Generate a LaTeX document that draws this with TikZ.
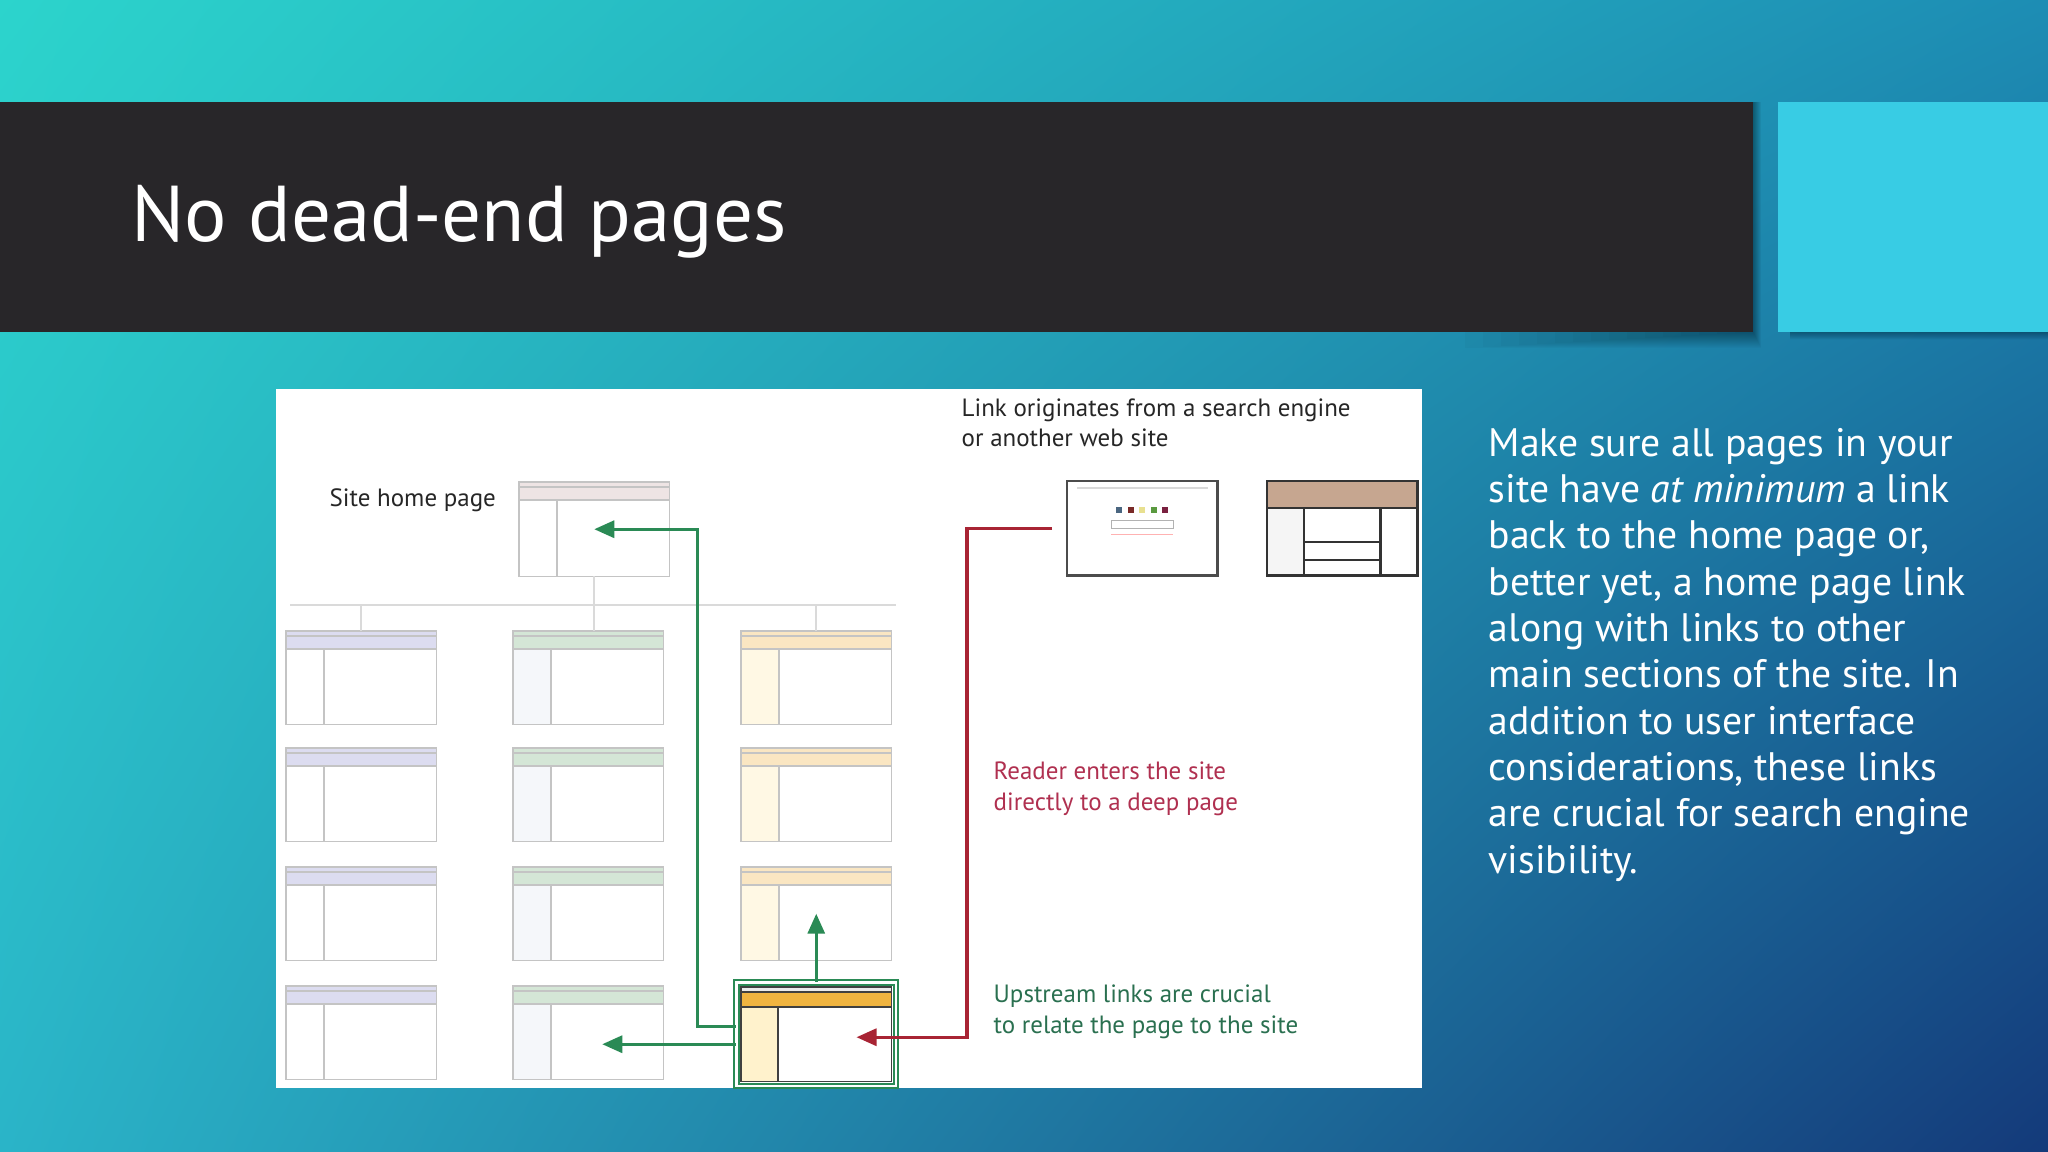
\documentclass[tikz,border=0pt]{standalone}
\usepackage{fontspec}
\setmainfont{PT Sans}
\usetikzlibrary{arrows.meta,calc,fit,shadings}

\definecolor{bgTL}{HTML}{2CD4CC}
\definecolor{bgTR}{HTML}{1D8DB4}
\definecolor{bgBL}{HTML}{2AB4C8}
\definecolor{bgBR}{HTML}{143A7A}
\definecolor{titlebar}{HTML}{282629}
\definecolor{accent}{HTML}{38CCE4}
\definecolor{boxgray}{HTML}{C4C4C4}
\definecolor{treegray}{HTML}{DADADA}
\definecolor{headHome}{HTML}{EEE4E4}
\definecolor{headA}{HTML}{DCDCF0}
\definecolor{headB}{HTML}{D4E6D6}
\definecolor{headC}{HTML}{FAE6C2}
\definecolor{colA}{HTML}{FFFFFF}
\definecolor{colB}{HTML}{F5F7FA}
\definecolor{colC}{HTML}{FFF8E4}
\definecolor{deephead}{HTML}{F0B440}
\definecolor{deepcol}{HTML}{FFF2CC}
\definecolor{sitehead}{HTML}{C6A690}
\definecolor{linkgreen}{HTML}{2A8A55}
\definecolor{linkred}{HTML}{A82434}
\definecolor{redtext}{HTML}{B03050}
\definecolor{greentext}{HTML}{2A7050}
\definecolor{sqA}{HTML}{4A6680}
\definecolor{sqB}{HTML}{7A2A28}
\definecolor{sqC}{HTML}{E8E090}
\definecolor{sqD}{HTML}{5A9A40}
\definecolor{sqE}{HTML}{7A2040}

\begin{document}
\begin{tikzpicture}[x=0.01cm, y=-0.01cm,
	pagebox/.style={minimum width=1.49cm, minimum height=0.92cm, inner sep=0, anchor=north west},
	boxline/.style={draw=boxgray, line width=0.45pt},
	treeline/.style={draw=treegray, line width=0.6pt},
	uplink/.style={draw=linkgreen, line width=0.9pt, -{Triangle[length=0.2cm, width=0.17cm]}},
	inlink/.style={draw=linkred, line width=0.9pt, -{Triangle[length=0.2cm, width=0.17cm]}},
	figlabel/.style={font=\fontsize{7.1}{8.8}\selectfont, text=black!85, anchor=base west, align=left, inner sep=0}]

		% slide background
		\shade[upper left=bgTL, upper right=bgTR, lower left=bgBL, lower right=bgBR] (0,0) rectangle (2048,1152);
		\useasboundingbox (0,0) rectangle (2048,1152);

		\foreach \d in {1,...,16} {
			\fill[black, opacity=0.022] (1753-\d*18,102) rectangle (1753+\d/2,332+\d);
			\fill[black, opacity=0.02] (1790,102) rectangle (2048,332+\d/2);
		}
		\fill[titlebar] (0,102) rectangle (1753,332);
		\fill[accent] (1778,102) rectangle (2048,332);
		\node[anchor=base west, inner sep=0, text=white, font=\fontsize{22.5}{27}\selectfont] (title) at (131,242) {No dead-end pages};

		% picture panel
		\fill[white] (276,389) rectangle (1422,1088);

		% site home page
		\node[pagebox, minimum height=0.93cm] (home) at (519,482) {};
		\fill[headHome] (home.north west) rectangle ($(home.north east)+(0,18)$);
		\draw[boxline] (home.north west) rectangle (home.south east);
		\draw[boxline] ($(home.north west)+(0,5)$) -- ($(home.north east)+(0,5)$);
		\draw[boxline] ($(home.north west)+(0,18)$) -- ($(home.north east)+(0,18)$);
		\draw[boxline] ($(home.north west)+(38,18)$) -- ($(home.south west)+(38,0)$);
		\node[figlabel] (homelabel) at (329,507) {Site home page};

		% section pages
		\foreach \cx/\x/\hc/\lc in {1/286/headA/colA, 2/513/headB/colB, 3/741/headC/colC}
			\foreach \ry/\y in {1/631, 2/748, 3/867, 4/986} {
				\ifnum\cx\ry=34 \else
				\node[pagebox] (p\cx\ry) at (\x,\y) {};
				\fill[\hc] (p\cx\ry.north west) rectangle ($(p\cx\ry.north east)+(0,18)$);
				\fill[\lc] ($(p\cx\ry.north west)+(0,18)$) rectangle ($(p\cx\ry.south west)+(38,0)$);
				\draw[boxline] (p\cx\ry.north west) rectangle (p\cx\ry.south east);
				\draw[boxline] ($(p\cx\ry.north west)+(0,5)$) -- ($(p\cx\ry.north east)+(0,5)$);
				\draw[boxline] ($(p\cx\ry.north west)+(0,18)$) -- ($(p\cx\ry.north east)+(0,18)$);
				\draw[boxline] ($(p\cx\ry.north west)+(38,18)$) -- ($(p\cx\ry.south west)+(38,0)$);
				\fi
			}

		\coordinate (busL) at (290,605);
		\coordinate (busR) at (896,605);
		\draw[treeline] (busL) -- (busR);
		\draw[treeline] (home.south) -- (home.south |- p21.north);
		\draw[treeline] (p11.north) -- (p11.north |- busL);
		\draw[treeline] (p31.north) -- (p31.north |- busL);

		% deep page
		\node[pagebox, minimum height=0.93cm] (deep) at (741,987) {};
		\fill[black!8] (deep.north west) rectangle ($(deep.north east)+(0,5)$);
		\fill[deephead] ($(deep.north west)+(0,5)$) rectangle ($(deep.north east)+(0,20)$);
		\fill[deepcol] ($(deep.north west)+(0,20)$) rectangle ($(deep.south west)+(37,0)$);
		\draw[black!75, line width=0.5pt] (deep.north west) rectangle (deep.south east);
		\draw[black!75, line width=0.5pt] ($(deep.north west)+(0,5)$) -- ($(deep.north east)+(0,5)$);
		\draw[black!75, line width=0.5pt] ($(deep.north west)+(0,20)$) -- ($(deep.north east)+(0,20)$);
		\draw[black!75, line width=0.5pt] ($(deep.north west)+(37,20)$) -- ($(deep.south west)+(37,0)$);
		\node[fit=(deep), inner sep=0.045cm, draw=linkgreen, double=white, double distance=0.8pt, line width=0.5pt] (deepframe) {};

		% outside pages
		\node[pagebox, minimum height=0.93cm] (search) at (1067,481) {};
		\draw[black!15] ($(search.north west)+(10,7)$) -- ($(search.north east)+(-10,7)$);
		\foreach \dx/\sc in {-23/sqA, -11.5/sqB, 0/sqC, 11.5/sqD, 23/sqE}
			\fill[\sc] ($(search.center)+(\dx-3,-21.5)$) rectangle ++(6,6);
		\draw[black!30, line width=0.4pt] ($(search.center)+(-31,-8)$) rectangle ($(search.center)+(31,0)$);
		\draw[red!30, line width=0.4pt] ($(search.center)+(-31,6)$) -- ($(search.center)+(31,6)$);
		\draw[black!70, line width=0.6pt] (search.north west) rectangle (search.south east);

		\node[pagebox, minimum height=0.93cm] (site) at (1267,481) {};
		\fill[sitehead] (site.north west) rectangle ($(site.north east)+(0,27)$);
		\fill[black!4] ($(site.north west)+(0,27)$) rectangle ($(site.south west)+(37,0)$);
		\draw[black!80, line width=0.6pt] (site.north west) rectangle (site.south east);
		\draw[black!80, line width=0.6pt] ($(site.north west)+(0,27)$) -- ($(site.north east)+(0,27)$);
		\draw[black!80, line width=0.6pt] ($(site.north west)+(37,27)$) -- ($(site.south west)+(37,0)$);
		\draw[black!80, line width=0.6pt] ($(site.north east)+(-37,27)$) -- ($(site.south east)+(-37,0)$);
		\draw[black!80, line width=0.6pt] ($(site.north west)+(37,61)$) -- ($(site.north east)+(-37,61)$);
		\draw[black!80, line width=0.6pt] ($(site.north west)+(37,79)$) -- ($(site.north east)+(-37,79)$);

		% links
		\draw[inlink] ($(search.west)+(-15,0)$) -- ++(-85,0) |- ($(deep.east)+(-35,3)$);
		\draw[uplink] ($(deepframe.west)+(0,-8)$) -- ++(-38,0) |- (home.center);
		\draw[uplink] ($(deepframe.west)+(0,10)$) -- ($(p24.center |- deepframe.west)+(14,10)$);
		\draw[uplink] (deepframe.north) -- (p33.center);

		% labels (base = last line)
		\node[figlabel] (originlabel) at (961,447) {Link originates from a search engine\\or another web site};
		\node[figlabel, text=redtext] (readerlabel) at (993,810) {Reader enters the site\\directly to a deep page};
		\node[figlabel, text=greentext] (upstreamlabel) at (993,1033) {Upstream links are crucial\\to relate the page to the site};

		% slide text
		\node[anchor=base west, inner sep=0, align=left, text=white, font=\fontsize{11.3}{13.17}\selectfont] (bodytext) at (1488,873) {Make sure all pages in your\\site have \textit{at minimum} a link\\back to the home page or,\\better yet, a home page link\\along with links to other\\main sections of the site. In\\addition to user interface\\considerations, these links\\are crucial for search engine\\visibility.};
	\end{tikzpicture}
\end{document}
